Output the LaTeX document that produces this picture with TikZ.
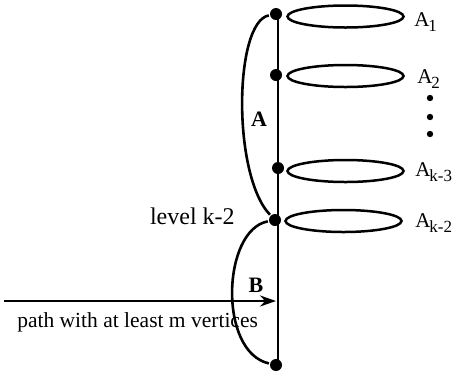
\documentclass[tikz,border=0pt]{standalone}
\usepackage{fontspec}
\setmainfont{Liberation Serif}
\usetikzlibrary{arrows.meta,shapes.geometric}
\newcommand{\subx}[1]{\raisebox{-5pt}{\fontsize{17}{17}\selectfont #1}}
\begin{document}
\begin{tikzpicture}[x=1pt,y=-1pt,line width=2.6pt,
  dotv/.style={circle,fill=black,inner sep=0pt,minimum size=12pt},
  loopset/.style={ellipse,draw,line width=2.5pt,minimum width=116pt,minimum height=22pt,inner sep=0pt},
  lab/.style={font=\fontsize{21}{23}\selectfont,inner sep=0pt,anchor=base west}]
\useasboundingbox (0,0) rectangle (460,373);
\draw (278,14) -- (278,366);
\node[dotv] (v1) at (276,14) {};
\node[dotv] (v2) at (276,75) {};
\node[dotv] (v3) at (278,168) {};
\node[dotv] (v4) at (275,220) {};
\node[dotv] (v5) at (276,365) {};
\node[loopset] (e1) at (345.5,16.5) {};
\node[loopset] (e2) at (345.5,76) {};
\node[loopset] (e3) at (345.5,171) {};
\node[loopset] (e4) at (343.5,221) {};
\node[lab] (a1) at (413,26) {A\kern-1pt\subx{1}};
\node[lab] (a2) at (416,83) {A\kern-1pt\subx{2}};
\node[lab] (a3) at (414,176) {A\kern-1pt\subx{k-3}};
\node[lab] (a4) at (414,227) {A\kern-1pt\subx{k-2}};
\fill (430,98) circle (3.2pt) (430,117) circle (3.2pt) (430,134) circle (3.2pt);
\draw (v1) .. controls (234,22) and (232,175) .. (v4);
\node[font=\fontsize{22}{24}\selectfont\bfseries,inner sep=0pt] (la) at (259,119) {A};
\node[font=\fontsize{24}{26}\selectfont,inner sep=0pt,anchor=base east] (lev) at (236,224) {level k-2};
\draw (v4) .. controls (222,230) and (218,352) .. (v5);
\node[font=\fontsize{22}{24}\selectfont\bfseries,inner sep=0pt] (lb) at (256,285) {B};
\coordinate (p0) at (4,301);
\coordinate (p1) at (276,301);
\draw[line width=2.8pt,-{Stealth[length=16pt,width=11pt]}] (p0) -- (p1);
\node[font=\fontsize{21.5}{23}\selectfont,inner sep=0pt,anchor=base west] (pt) at (16,327) {path with at least m vertices};
\end{tikzpicture}
\end{document}
